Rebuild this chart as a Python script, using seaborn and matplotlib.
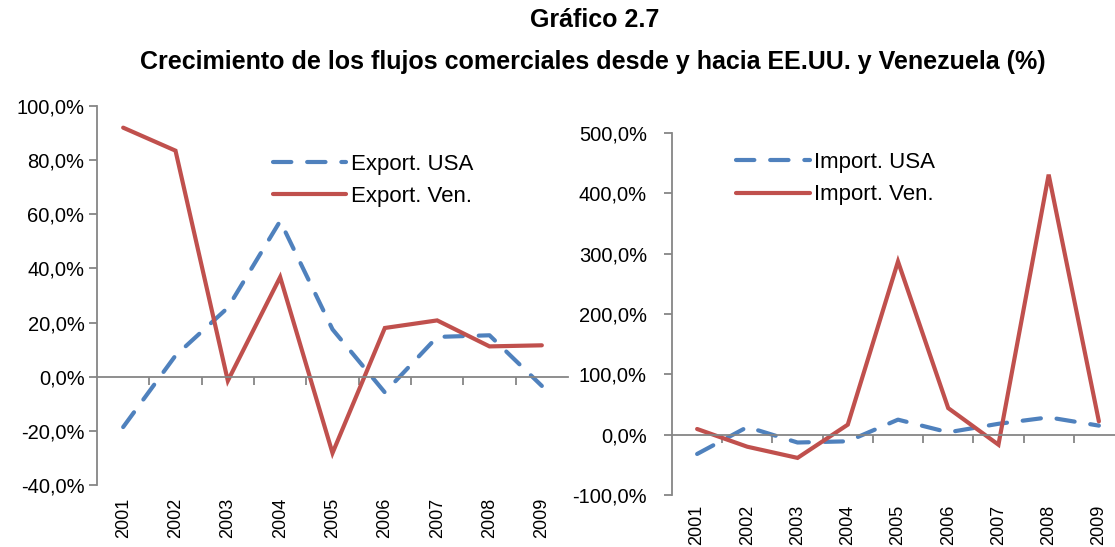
import numpy as np
import pandas as pd
import seaborn as sns
import matplotlib
matplotlib.use("Agg")
import matplotlib.pyplot as plt
from matplotlib.ticker import FuncFormatter, FixedLocator

years = ["2001", "2002", "2003", "2004", "2005", "2006", "2007", "2008", "2009"]
export_usa = [-18.6, 7.8, 25.5, 57.5, 17.5, -5.8, 14.7, 15.3, -3.4]
export_ven = [92.0, 83.5, -1.5, 36.8, -28.2, 18.0, 20.8, 11.2, 11.6]
import_usa = [-32.0, 12.7, -13.0, -11.0, 24.9, 3.9, 18.0, 28.7, 15.0]
import_ven = [9.4, -20.0, -38.5, 16.6, 287.0, 44.0, -16.6, 431.0, 22.0]

BLUE = "#4F81BD"
RED = "#C0504D"
GRAY = "#868686"
FONT = ["Liberation Sans", "DejaVu Sans"]

sns.set_theme(style="white")
plt.rcParams["font.family"] = FONT
plt.rcParams["text.color"] = "black"
plt.rcParams["xtick.labelcolor"] = "black"
plt.rcParams["ytick.labelcolor"] = "black"
plt.rcParams["legend.labelcolor"] = "black"

fig = plt.figure(figsize=(11.15, 5.47), dpi=100)
ax1 = fig.add_axes([97 / 1115, 62 / 547, 471 / 1115, 379 / 547])
ax2 = fig.add_axes([672 / 1115, 52 / 547, 452 / 1115, 362 / 547])

pct = FuncFormatter(lambda v, p: f"{v:.1f}%".replace(".", ","))


def draw(ax, usa, ven, labels, ylim, ystep, leg_anchor, ypad, xpad):
    x = np.arange(len(years))
    df = pd.DataFrame({"x": x, "usa": usa, "ven": ven})
    sns.lineplot(data=df, x="x", y="usa", ax=ax, color=BLUE, lw=3.0,
                 label=labels[0])
    sns.lineplot(data=df, x="x", y="ven", ax=ax, color=RED, lw=3.0,
                 label=labels[1])
    l_usa, l_ven = ax.get_lines()[:2]
    l_usa.set_dashes((4.4, 3.8))
    l_usa.set_dash_capstyle("round")
    l_ven.set_solid_capstyle("round")
    l_ven.set_solid_joinstyle("miter")

    ax.set_xlim(-0.5, len(years) - 0.5)
    ax.set_ylim(*ylim)
    ax.set_yticks(np.arange(ylim[0], ylim[1] + 0.1, ystep))
    ax.yaxis.set_major_formatter(pct)
    ax.set_xlabel("")
    ax.set_ylabel("")

    for s in ["top", "right"]:
        ax.spines[s].set_visible(False)
    for s in ["left", "bottom"]:
        ax.spines[s].set_color(GRAY)
        ax.spines[s].set_linewidth(1.3)
    ax.spines["bottom"].set_position(("data", 0))

    # category boundary ticks on the zero axis
    ax.xaxis.set_major_locator(FixedLocator(np.arange(0.5, len(years) - 0.5, 1)))
    ax.set_xticklabels([])
    ax.tick_params(axis="x", which="major", direction="out", length=6,
                   width=1.3, color=GRAY, bottom=True)
    ax.tick_params(axis="y", direction="out", length=6, width=1.3,
                   color=GRAY, left=True, labelsize=14.5, pad=ypad,
                   labelcolor="black")

    sec = ax.secondary_xaxis("bottom")
    sec.set_xticks(x)
    sec.set_xticklabels(years, rotation=90, fontsize=13, color="black")
    sec.tick_params(length=0, pad=xpad)
    sec.spines["bottom"].set_visible(False)

    ax.legend(loc="upper left", bbox_to_anchor=leg_anchor, frameon=False,
              fontsize=16, handlelength=3.3, handletextpad=0.2,
              borderpad=0, borderaxespad=0, labelspacing=0.5,
              labelcolor="black")


draw(ax1, export_usa, export_ven, ["Export. USA", "Export. Ven."],
     (-40, 100), 20, (0.374, 0.873), 3, 9)
draw(ax2, import_usa, import_ven, ["Import. USA", "Import. Ven."],
     (-100, 500), 100, (0.142, 0.947), 12, 7)

fig.text(0.533, 0.963, "Gráfico 2.7", ha="center", va="center",
         fontsize=18, fontweight="bold", color="black")
fig.text(0.532, 0.887, "Crecimiento de los flujos comerciales desde y hacia EE.UU. y Venezuela (%)",
         ha="center", va="center", fontsize=18, fontweight="bold", color="black")

fig.savefig("out.png", dpi=100)
